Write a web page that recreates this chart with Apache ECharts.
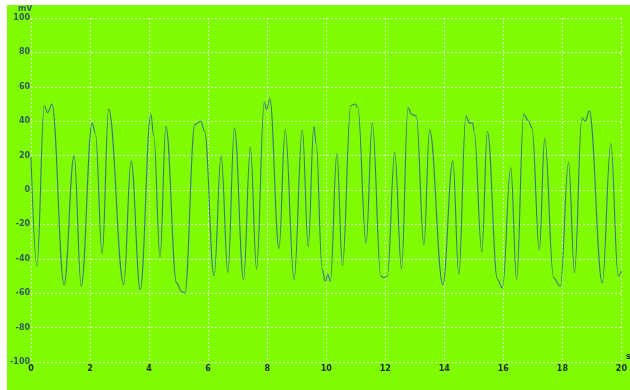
<!DOCTYPE html>
<html>
<head>
<meta charset="utf-8">
<script src="https://cdn.jsdelivr.net/npm/echarts@6/dist/echarts.min.js"></script>
<style>
  html, body { margin: 0; padding: 0; background: #ffffff; }
  #chart { position: absolute; left: 7px; top: 5px; width: 623px; height: 385px; background: #80fc00; }
</style>
</head>
<body>
<div id="chart"></div>
<script>
// waveform: time (s) and voltage (mV)
const times = [
  0.00, 0.20, 0.45, 0.56, 0.71, 1.12, 1.46, 1.70, 2.07, 2.18, 2.41, 2.63, 3.14, 3.39, 3.70,
  4.06, 4.16, 4.37, 4.57, 4.93, 5.10, 5.21, 5.55, 5.75, 5.88, 6.20, 6.44, 6.67, 6.89, 7.20,
  7.43, 7.64, 7.90, 7.98, 8.09, 8.40, 8.61, 8.91, 9.19, 9.39, 9.58, 9.66, 9.86, 9.97, 10.05,
  10.14, 10.36, 10.55, 10.83, 10.98, 11.07, 11.35, 11.56, 11.85, 11.95, 12.07, 12.32, 12.55,
  12.77, 12.89, 13.05, 13.31, 13.50, 13.95, 14.29, 14.49, 14.73, 14.85, 14.96, 15.01, 15.27,
  15.46, 15.80, 15.97, 16.25, 16.45, 16.69, 16.86, 16.97, 17.22, 17.40, 17.70, 17.93, 18.21,
  18.41, 18.66, 18.77, 18.91, 19.35, 19.64, 19.89, 20.00
];
const millivolts = [
  19, -44, 49, 45, 50, -55, 20, -56, 39, 33, -37, 47, -55, 17, -58,
  44, 31, -39, 37, -54, -59, -60, 38, 40, 34, -50, 20, -48, 36, -52,
  25, -46, 51, 47, 53, -34, 35, -52, 35, -33, 37, 27, -46, -53, -49,
  -53, 21, -44, 49, 50, 48, -31, 39, -50, -51, -50, 22, -46,
  48, 44, 43, -32, 35, -55, 17, -49, 43, 39, 39, 34, -36,
  34, -52, -57, 13, -52, 44, 40, 36, -35, 30, -51, -56, 16,
  -48, 42, 40, 46, -54, 27, -50, -47
];
const xTicks = [0, 2, 4, 6, 8, 10, 12, 14, 16, 18, 20];
const yTicks = [-100, -80, -60, -40, -20, 0, 20, 40, 60, 80, 100];

const chart = echarts.init(document.getElementById("chart"), null, { renderer: "canvas" });

const gridLine = {
  show: true,
  lineStyle: { color: "rgba(255,255,255,0.7)", width: 1, type: [2, 2] },
};

const option = {
  backgroundColor: "transparent",
  animation: false,
  grid: { left: 23, top: 13, width: 595, height: 344 },
  xAxis: {
    type: "value",
    min: xTicks[0],
    max: xTicks[xTicks.length - 1],
    interval: 2,
    axisLine: { show: false },
    axisTick: { show: false },
    splitLine: gridLine,
    axisLabel: {
      color: "#1c2c1c",
      fontFamily: "DejaVu Sans",
      fontSize: 8,
      fontWeight: "bold",
      margin: 3,
    },
  },
  yAxis: {
    type: "value",
    min: yTicks[0],
    max: yTicks[yTicks.length - 1],
    interval: 20,
    axisLine: { show: false },
    axisTick: { show: false },
    splitLine: gridLine,
    axisLabel: {
      color: "#2e5e5e",
      fontFamily: "DejaVu Sans",
      fontSize: 8,
      fontWeight: "bold",
      margin: 1,
    },
  },
  graphic: [
    {
      type: "text",
      left: 11,
      top: 0,
      style: { text: "mV", fill: "#2e5e5e", font: "bold 8px 'DejaVu Sans'" },
    },
    {
      type: "text",
      left: 619,
      top: 348,
      style: { text: "s", fill: "#1c2c1c", font: "bold 8px 'DejaVu Sans'" },
    },
  ],
  series: [
    {
      type: "line",
      data: times.map((t, i) => [t, millivolts[i]]),
      showSymbol: false,
      smooth: 0.4,
      smoothMonotone: "x",
      lineStyle: { color: "#387788", width: 1.1 },
    },
  ],
};

chart.setOption(option);
</script>
</body>
</html>
